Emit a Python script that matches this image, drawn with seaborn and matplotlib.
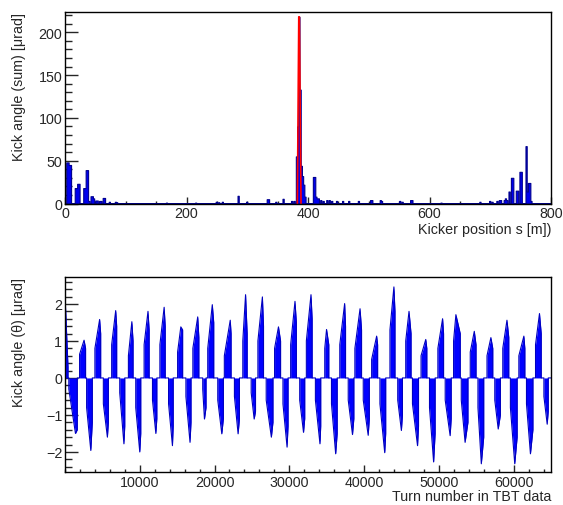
import numpy as np
import pandas as pd
import seaborn as sns
import matplotlib.pyplot as plt
from matplotlib.ticker import MultipleLocator

# ---------------- data: top panel (kick angle sum per kicker, 2 m bins) ----------------
kicker_s = [3, 5, 7, 9, 17, 19, 21, 23, 31, 33, 35, 37, 39, 43, 45, 47, 51, 53, 57, 59,
            63, 65, 73, 83, 85, 167, 215, 249, 253, 259, 285, 299, 333, 335, 347, 359,
            373, 377, 381, 383, 385, 387, 389, 391, 393, 395, 409, 411, 413, 415, 417,
            421, 425, 431, 435, 439, 447, 457, 467, 483, 503, 505, 519, 521, 551, 555,
            569, 571, 619, 683, 699, 703, 711, 715, 717, 723, 725, 727, 731, 735, 737,
            743, 745, 749, 751, 759, 761, 763, 765, 767]
kick_sum = [48, 48, 45, 45, 18, 18, 23, 23, 18, 18, 39, 39, 3, 8.5, 8.5, 6, 3.5, 3.5, 3, 3,
            6.5, 6.5, 2, 2, 1.5, 1, 1, 2, 1.5, 2, 9, 2, 5, 5, 2, 5.5,
            3, 3, 55, 90, 218, 133, 44, 32, 22, 8, 31, 31, 8, 6, 6,
            4, 3, 4, 4, 3, 3, 3, 3, 3, 4, 4, 4, 3, 3, 2,
            4, 4, 1, 2, 3, 2, 3, 4, 4, 4, 6, 4, 14, 30, 30,
            15, 15, 37, 37, 67, 14, 24, 24, 3]

# red overlay at the main peak
peak_s = [382.5, 384.8, 385.8, 388.5]
peak_val = [0, 218, 218, 0]

# ---------------- data: bottom panel (kick angle per lobe) ----------------
lobe_start = [0, 510, 1950, 2890, 4000, 5130, 6240, 7320, 8480, 9460, 10580, 11700,
              12690, 13850, 15060, 16170, 17100, 18420, 19090, 20430, 21310, 22660,
              23780, 24900, 25800, 26910, 28030, 29150, 30180, 31390, 32280, 33490,
              34740, 35640, 36750, 37880, 38770, 39890, 41010, 42120, 43460, 44500,
              45570, 46470, 47620, 48750, 49870, 50850, 51970, 53000, 54200, 55230,
              56440, 57480, 58550, 59570, 60700, 61720, 62930, 64050]
lobe_peak_turn = [40, 1400, 2550, 3450, 4630, 5670, 6780, 7880, 8940, 10000, 11100, 12150,
                  13260, 14370, 15490, 16720, 17750, 18650, 19700, 20970, 22100, 23150,
                  24150, 25300, 26400, 27600, 28550, 29700, 30760, 31900, 32900, 34100,
                  34980, 36200, 37400, 38450, 39460, 40550, 41680, 42760, 43990, 44990,
                  46010, 47150, 48250, 49300, 50500, 51510, 52280, 53510, 54740, 55680,
                  56960, 57940, 59110, 60150, 61370, 62250, 63460, 64490]
lobe_end = [400, 1640, 2750, 3650, 4770, 5800, 6910, 7990, 9100, 10130, 11250, 12280,
            13400, 14470, 15730, 16850, 17900, 18860, 19890, 21180, 22210, 23330,
            24360, 25480, 26550, 27810, 28830, 29830, 30940, 32060, 33050, 34200,
            35280, 36400, 37520, 38630, 39660, 40700, 41810, 42890, 44130, 45130,
            46280, 47280, 48390, 49500, 50630, 51650, 52860, 53890, 54970, 56000,
            57210, 58230, 59350, 60470, 61500, 62580, 63690, 64630]
lobe_v_start = [2.0, -0.3, 0.64, -0.8, 0.8, -0.7, 0.9, -0.4, 0.6, -0.8, 0.9, -0.6,
                0.9, -0.7, 0.7, -0.5, 0.8, -0.3, 0.8, -0.6, 0.6, -0.5,
                1.0, -0.4, 1.0, -0.6, 0.8, -0.7, 0.9, -0.6, 1.0, -0.6,
                0.8, -0.7, 0.9, -0.6, 0.8, -0.6, 0.5, -0.7, 1.3, -0.6,
                1.0, -0.7, 0.6, -0.8, 0.8, -0.6, 1.0, -0.6, 0.7, -0.8,
                0.6, -0.6, 0.8, -0.8, 0.6, -0.7, 0.9, -0.5]
lobe_v_peak = [2.05, -1.5, 1.02, -1.96, 1.58, -1.6, 1.82, -1.78, 1.52, -2.0, 1.8, -1.5,
               1.91, -1.83, 1.38, -1.74, 1.65, -1.11, 1.98, -1.51, 1.56, -1.51,
               2.25, -1.11, 2.19, -1.6, 1.38, -1.87, 2.07, -1.47, 2.25, -1.78,
               1.31, -2.05, 2.01, -1.53, 1.87, -1.55, 1.13, -2.02, 2.46, -1.42,
               1.8, -1.83, 1.04, -2.27, 1.6, -1.56, 1.71, -1.74, 1.26, -2.32,
               1.09, -1.38, 1.56, -2.32, 1.13, -2.05, 1.74, -1.25]
lobe_v_end = [0.3, -1.4, 0.8, -1.2, 1.2, -1.2, 1.4, -1.3, 1.0, -1.5, 1.3, -1.1,
              1.4, -1.3, 1.3, -1.2, 1.1, -0.8, 1.5, -1.1, 1.2, -1.1,
              1.2, -0.9, 1.4, -1.2, 1.0, -1.3, 1.5, -1.1, 1.6, -1.3,
              0.9, -1.5, 1.4, -1.1, 1.3, -1.1, 0.9, -1.5, 1.8, -1.0,
              1.2, -1.3, 0.8, -1.5, 1.2, -1.1, 1.2, -1.2, 0.9, -1.6,
              0.8, -1.0, 1.1, -1.6, 0.8, -1.4, 1.2, -0.9]
turn_max = 65000

# ---------------- tables ----------------
kick_df = pd.DataFrame({"s": kicker_s, "kick": kick_sum})

turns, vals = [], []
for t0, tp, t1, v0, vp, v1 in zip(lobe_start, lobe_peak_turn, lobe_end,
                                  lobe_v_start, lobe_v_peak, lobe_v_end):
    turns += [t0, t0, tp, t1, t1]
    vals += [0, v0, vp, v1, 0]
turns.append(turn_max)
vals.append(0)
tbt = pd.DataFrame({"turn": turns, "kick": vals})

# ---------------- figure ----------------
FS = 10.3
sns.set_theme(style="ticks")
plt.rcParams['font.family'] = ['Liberation Sans', 'DejaVu Sans']
plt.rcParams['axes.linewidth'] = 1.0

fig = plt.figure(figsize=(5.63, 5.06), dpi=100)
ax1 = fig.add_axes([65 / 563, 1 - 204.5 / 506, 486 / 563, (204.5 - 12.7) / 506])
ax2 = fig.add_axes([65 / 563, 1 - 473.3 / 506, 486 / 563, (473.3 - 278.3) / 506])

# top panel
sns.histplot(data=kick_df, x="s", weights="kick", binwidth=2, binrange=(0, 800),
             element="step", fill=True, color="#0000ee", alpha=1.0,
             edgecolor="#000090", linewidth=0.8, ax=ax1)
sns.lineplot(x=peak_s, y=peak_val, sort=False, color="red", linewidth=1.2, ax=ax1)
ax1.set_xlim(0, 800)
ax1.set_ylim(0, 224)
ax1.xaxis.set_major_locator(MultipleLocator(200))
ax1.xaxis.set_minor_locator(MultipleLocator(50))
ax1.yaxis.set_major_locator(MultipleLocator(50))
ax1.yaxis.set_minor_locator(MultipleLocator(10))
ax1.set_xlabel("Kicker position s [m])", loc="right", fontsize=FS, labelpad=1)
ax1.set_ylabel("Kick angle (sum) [μrad]", loc="top", fontsize=FS, labelpad=9)

# bottom panel
ax2.fill_between(tbt["turn"], tbt["kick"], 0, color="#0000ff", linewidth=0)
sns.lineplot(data=tbt, x="turn", y="kick", sort=False, estimator=None,
             color="#0000c0", linewidth=0.8, ax=ax2)
ax2.set_xlim(0, turn_max)
ax2.set_ylim(-2.55, 2.72)
ax2.xaxis.set_major_locator(MultipleLocator(10000))
ax2.xaxis.set_minor_locator(MultipleLocator(2000))
ax2.yaxis.set_major_locator(MultipleLocator(1))
ax2.yaxis.set_minor_locator(MultipleLocator(0.2))
ax2.set_xticks([10000, 20000, 30000, 40000, 50000, 60000])
ax2.set_xlabel("Turn number in TBT data", loc="right", fontsize=FS, labelpad=0)
ax2.set_ylabel("Kick angle (θ) [μrad]", loc="top", fontsize=FS, labelpad=14)

for ax in (ax1, ax2):
    for sp in ax.spines.values():
        sp.set_visible(True)
        sp.set_color("black")
        sp.set_linewidth(1.0)
    ax.tick_params(axis="y", which="major", direction="in", length=9.5, width=1,
                   labelsize=FS, pad=2, right=False)
    ax.tick_params(axis="y", which="minor", direction="in", length=5, width=1, right=False)
    ax.tick_params(axis="x", which="major", direction="in", length=5, width=1,
                   labelsize=FS, pad=2, top=False)
    ax.tick_params(axis="x", which="minor", direction="in", length=2.5, width=1, top=False)

fig.savefig("out.png", dpi=100)
plt.close(fig)
